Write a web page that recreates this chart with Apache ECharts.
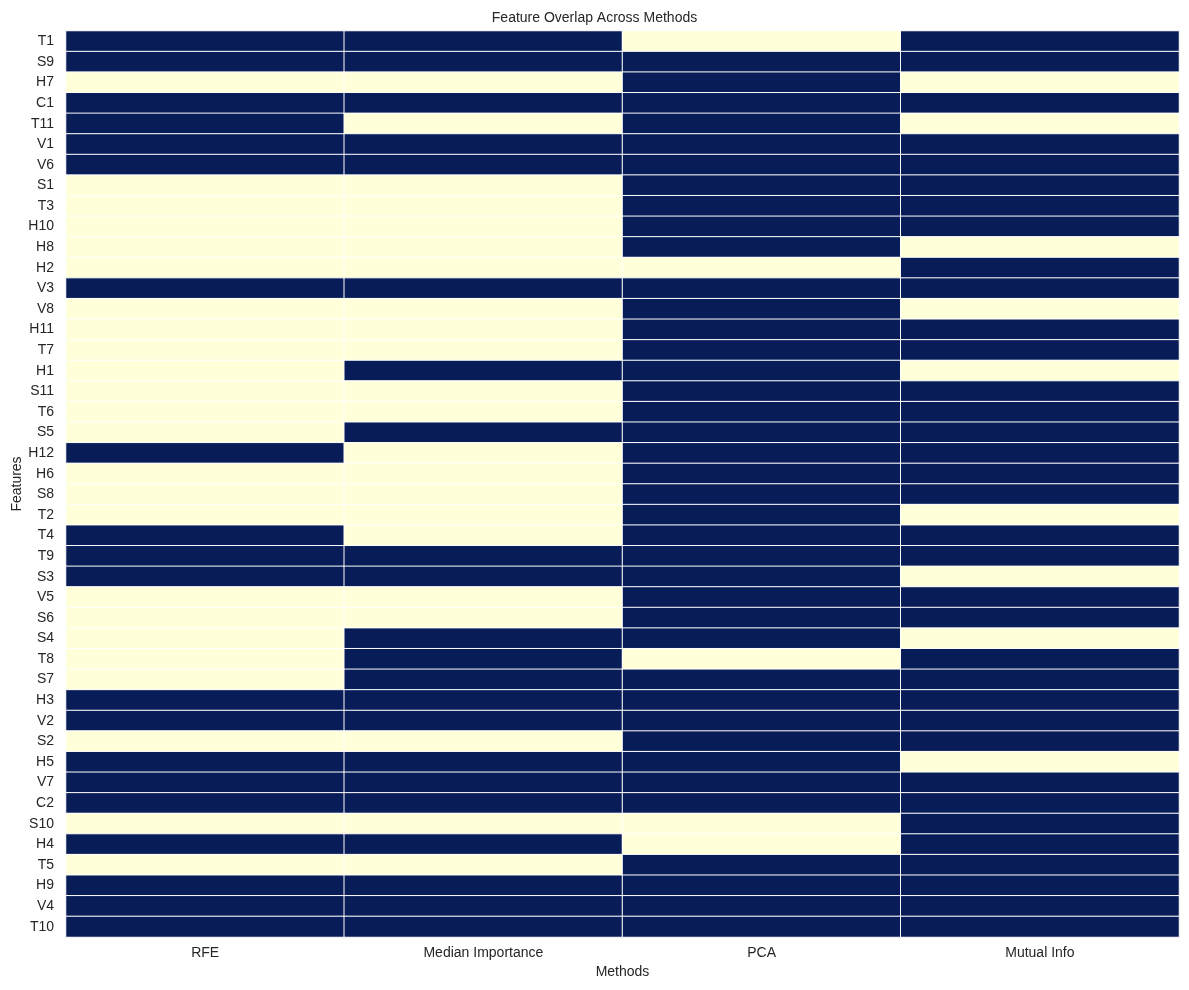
<!DOCTYPE html>
<html>
<head>
<meta charset="utf-8">
<script src="https://cdn.jsdelivr.net/npm/echarts@6/dist/echarts.min.js"></script>
<style>
  html, body { margin: 0; padding: 0; background: #fff; }
  #chart { width: 1189px; height: 990px; }
</style>
</head>
<body>
<div id="chart"></div>
<script>
const methods = ['RFE', 'Median Importance', 'PCA', 'Mutual Info']
const features = ['T1', 'S9', 'H7', 'C1', 'T11', 'V1', 'V6', 'S1', 'T3', 'H10', 'H8', 'H2', 'V3', 'V8', 'H11', 'T7',
  'H1', 'S11', 'T6', 'S5', 'H12', 'H6', 'S8', 'T2', 'T4', 'T9', 'S3', 'V5', 'S6', 'S4', 'T8', 'S7', 'H3', 'V2',
  'S2', 'H5', 'V7', 'C2', 'S10', 'H4', 'T5', 'H9', 'V4', 'T10']

// 1 = selected by the method, one column per method
const rfe = [1, 1, 0, 1, 1, 1, 1, 0, 0, 0, 0, 0, 1, 0, 0, 0, 0, 0, 0, 0, 1, 0, 0, 0, 1, 1, 1, 0, 0, 0, 0, 0, 1, 1,
  0, 1, 1, 1, 0, 1, 0, 1, 1, 1]
const medianImportance = [1, 1, 0, 1, 0, 1, 1, 0, 0, 0, 0, 0, 1, 0, 0, 0, 1, 0, 0, 1, 0, 0, 0, 0, 0, 1, 1, 0, 0, 1, 1, 1, 1, 1,
  0, 1, 1, 1, 0, 1, 0, 1, 1, 1]
const pca = [0, 1, 1, 1, 1, 1, 1, 1, 1, 1, 1, 0, 1, 1, 1, 1, 1, 1, 1, 1, 1, 1, 1, 1, 1, 1, 1, 1, 1, 1, 0, 1, 1, 1,
  1, 1, 1, 1, 0, 0, 1, 1, 1, 1]
const mutualInfo = [1, 1, 0, 1, 0, 1, 1, 1, 1, 1, 0, 1, 1, 0, 1, 1, 0, 1, 1, 1, 1, 1, 1, 0, 1, 1, 0, 1, 1, 0, 1, 1, 1, 1,
  1, 0, 1, 1, 1, 1, 1, 1, 1, 1]

const columns = [rfe, medianImportance, pca, mutualInfo]
const data = []
columns.forEach((col, x) => {
  col.forEach((v, y) => {
    data.push([x, y, v])
  })
})

const chart = echarts.init(document.getElementById('chart'))
const textColor = '#262626'
const fontFamily = '"Liberation Sans", Arial, sans-serif'

chart.setOption({
  animation: false,
  textStyle: { fontFamily: fontFamily },
  title: {
    text: 'Feature Overlap Across Methods',
    left: 'center',
    top: 6,
    textStyle: { fontSize: 14, fontWeight: 'normal', color: textColor, fontFamily: fontFamily }
  },
  grid: {
    left: 66,
    right: 10,
    top: 31,
    bottom: 53,
    outerBoundsMode: 'none',
    containLabel: false
  },
  // y axis title drawn as plain text so it sits where the reference has it
  graphic: [
    {
      type: 'text',
      x: 17,
      y: 484,
      rotation: Math.PI / 2,
      style: {
        text: 'Features',
        fill: textColor,
        font: '14px "Liberation Sans", Arial, sans-serif',
        align: 'center',
        verticalAlign: 'middle'
      }
    }
  ],
  xAxis: {
    type: 'category',
    data: methods,
    name: 'Methods',
    nameLocation: 'middle',
    nameGap: 28,
    nameTextStyle: { fontSize: 14, color: textColor },
    axisLine: { show: false },
    axisTick: { show: false },
    splitArea: { show: false },
    axisLabel: { fontSize: 14, color: textColor, margin: 9 }
  },
  yAxis: {
    type: 'category',
    data: features,
    inverse: true,
    axisLine: { show: false },
    axisTick: { show: false },
    splitArea: { show: false },
    axisLabel: { fontSize: 14, color: textColor, margin: 12 }
  },
  visualMap: {
    show: false,
    min: 0,
    max: 1,
    dimension: 2,
    inRange: { color: ['#ffffd9', '#081d58'] }
  },
  series: [
    {
      type: 'heatmap',
      data: data,
      itemStyle: {
        borderColor: '#ffffff',
        borderWidth: 1
      },
      emphasis: { disabled: true }
    }
  ]
})
</script>
</body>
</html>
